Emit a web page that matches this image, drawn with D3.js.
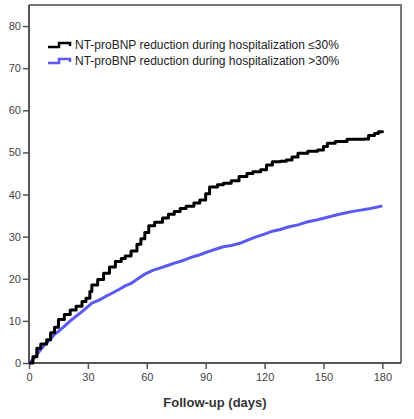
<!DOCTYPE html>
<html>
<head>
<meta charset="utf-8">
<script src="https://cdn.jsdelivr.net/npm/d3@7"></script>
<style>
	body { margin: 0; background: #fff; }
	svg { display: block; font-family: "Liberation Sans", Arial, sans-serif; }
</style>
</head>
<body>
<svg id="chart" width="414" height="419"></svg>
<script>
// cumulative incidence (%), [day, value]
var lowReductionDays = [0, 2, 4, 6, 9, 11, 13, 15, 18, 21, 24, 27, 29, 31, 32, 35, 38, 41, 44, 47, 49, 52, 55, 57, 59, 61, 64, 68, 71, 74, 77, 80, 84, 87, 90, 92, 96, 99, 103, 107, 111, 114, 118, 121, 124, 128, 131, 134, 137, 142, 147, 150, 152, 156, 162, 166, 171, 173, 176, 178, 180];
var lowReductionValues = [0, 1.5, 3.5, 4.5, 5.5, 7.2, 8.5, 10.3, 11.5, 12.6, 13.5, 14.6, 15.4, 17, 18.5, 19.8, 21.3, 22.8, 24.1, 24.8, 25.4, 26.6, 28.2, 29.5, 31, 32.6, 33.4, 34.4, 35.3, 36.0, 36.7, 37.2, 38.0, 38.7, 40.2, 41.8, 42.3, 42.7, 43.3, 44.3, 45.0, 45.4, 45.9, 47.0, 47.8, 47.9, 48.2, 48.9, 49.8, 50.3, 50.6, 51.4, 52.2, 52.6, 53.1, 53.1, 53.2, 54.0, 54.5, 54.9, 55.2];

var highReductionDays = [0, 2, 4, 6, 8, 11, 13, 15, 18, 21, 24, 27, 30, 32, 36, 39, 42, 46, 49, 52, 56, 59, 63, 67, 71, 74, 77, 81, 84, 87, 91, 95, 99, 103, 108, 112, 116, 120, 124, 128, 132, 137, 141, 147, 151, 157, 161, 165, 169, 173, 177, 180];
var highReductionValues = [0, 0.8, 2.0, 3.2, 4.3, 5.7, 6.8, 7.5, 8.7, 10.0, 11.1, 12.2, 13.4, 14.2, 15.0, 15.8, 16.5, 17.5, 18.3, 18.9, 20.2, 21.1, 22.0, 22.6, 23.2, 23.7, 24.1, 24.8, 25.3, 25.7, 26.4, 27.0, 27.6, 27.9, 28.5, 29.3, 30.0, 30.6, 31.3, 31.7, 32.3, 32.8, 33.4, 34.0, 34.5, 35.2, 35.6, 36.0, 36.3, 36.6, 37.0, 37.3];

var xTicks = [0, 30, 60, 90, 120, 150, 180];
var yTicks = [0, 10, 20, 30, 40, 50, 60, 70, 80];

var seriesNames = ["NT-proBNP reduction during hospitalization \u226430%", "NT-proBNP reduction during hospitalization >30%"];
var seriesColors = ["#000000", "#5a5af0"];

var svg = d3.select("#chart");

// plot frame edges (pixels)
var frame = {left: 29, right: 401, top: 5, bottom: 363};

var x = d3.scaleLinear().domain([0, 189.5]).range([frame.left, frame.right]);
var y = d3.scaleLinear().domain([0, 85]).range([frame.bottom, frame.top]);

var axisColor = "#555";

// frame (top and right sides)
svg.append("path")
	.attr("d", "M" + frame.left + "," + frame.top + "H" + frame.right + "V" + frame.bottom)
	.attr("fill", "none")
	.attr("stroke", "#777")
	.attr("stroke-width", 2);

var xAxis = svg.append("g")
	.attr("transform", "translate(0," + frame.bottom + ")")
	.call(d3.axisBottom(x).tickValues(xTicks).tickSize(6).tickSizeOuter(0).tickPadding(4));

var yAxis = svg.append("g")
	.attr("transform", "translate(" + frame.left + ",0)")
	.call(d3.axisLeft(y).tickValues(yTicks).tickSize(6).tickSizeOuter(0).tickPadding(2));

[xAxis, yAxis].forEach(function(axis) {
	axis.select(".domain").attr("stroke", axisColor).attr("stroke-width", 2);
	axis.selectAll(".tick line").attr("stroke", axisColor).attr("stroke-width", 1.5);
	axis.selectAll(".tick text")
		.attr("fill", "#444")
		.style("font-size", "11px")
		.style("font-family", "'Liberation Sans', Arial, sans-serif");
});

// axis lines span the full frame
xAxis.select(".domain").attr("d", "M" + frame.left + ",0H" + frame.right);
yAxis.select(".domain").attr("d", "M0," + frame.top + "V" + frame.bottom);

svg.append("text")
	.attr("x", (frame.left + frame.right) / 2)
	.attr("y", 407)
	.attr("text-anchor", "middle")
	.attr("fill", "#333")
	.style("font-size", "13px")
	.style("font-weight", "bold")
	.text("Follow-up (days)");

// black curve keeps its visible steps, the blue one has many small events and looks smooth
var stepLine = d3.line()
	.x(function(d) { return x(d[0]); })
	.y(function(d) { return y(d[1]); })
	.curve(d3.curveStepAfter);

var smoothLine = d3.line()
	.x(function(d) { return x(d[0]); })
	.y(function(d) { return y(d[1]); })
	.curve(d3.curveLinear);

var series = [
	{data: d3.zip(highReductionDays, highReductionValues), color: seriesColors[1], line: smoothLine},
	{data: d3.zip(lowReductionDays, lowReductionValues), color: seriesColors[0], line: stepLine}
];

series.forEach(function(s) {
	svg.append("path")
		.datum(s.data)
		.attr("fill", "none")
		.attr("stroke", s.color)
		.attr("stroke-width", 3)
		.attr("stroke-linejoin", "round")
		.attr("d", s.line);
});

// legend with a small step symbol
var legend = svg.append("g");
seriesNames.forEach(function(name, i) {
	var cy = 45 + i * 16;
	legend.append("path")
		.attr("d", "M48," + (cy + 2) + "H59V" + (cy - 2) + "H70V" + (cy + 1))
		.attr("fill", "none")
		.attr("stroke", seriesColors[i])
		.attr("stroke-width", 2.5);
	legend.append("text")
		.attr("x", 75)
		.attr("y", cy)
		.attr("dy", "0.35em")
		.attr("fill", "#222")
		.style("font-size", "12px")
		.text(name);
});
</script>
</body>
</html>
